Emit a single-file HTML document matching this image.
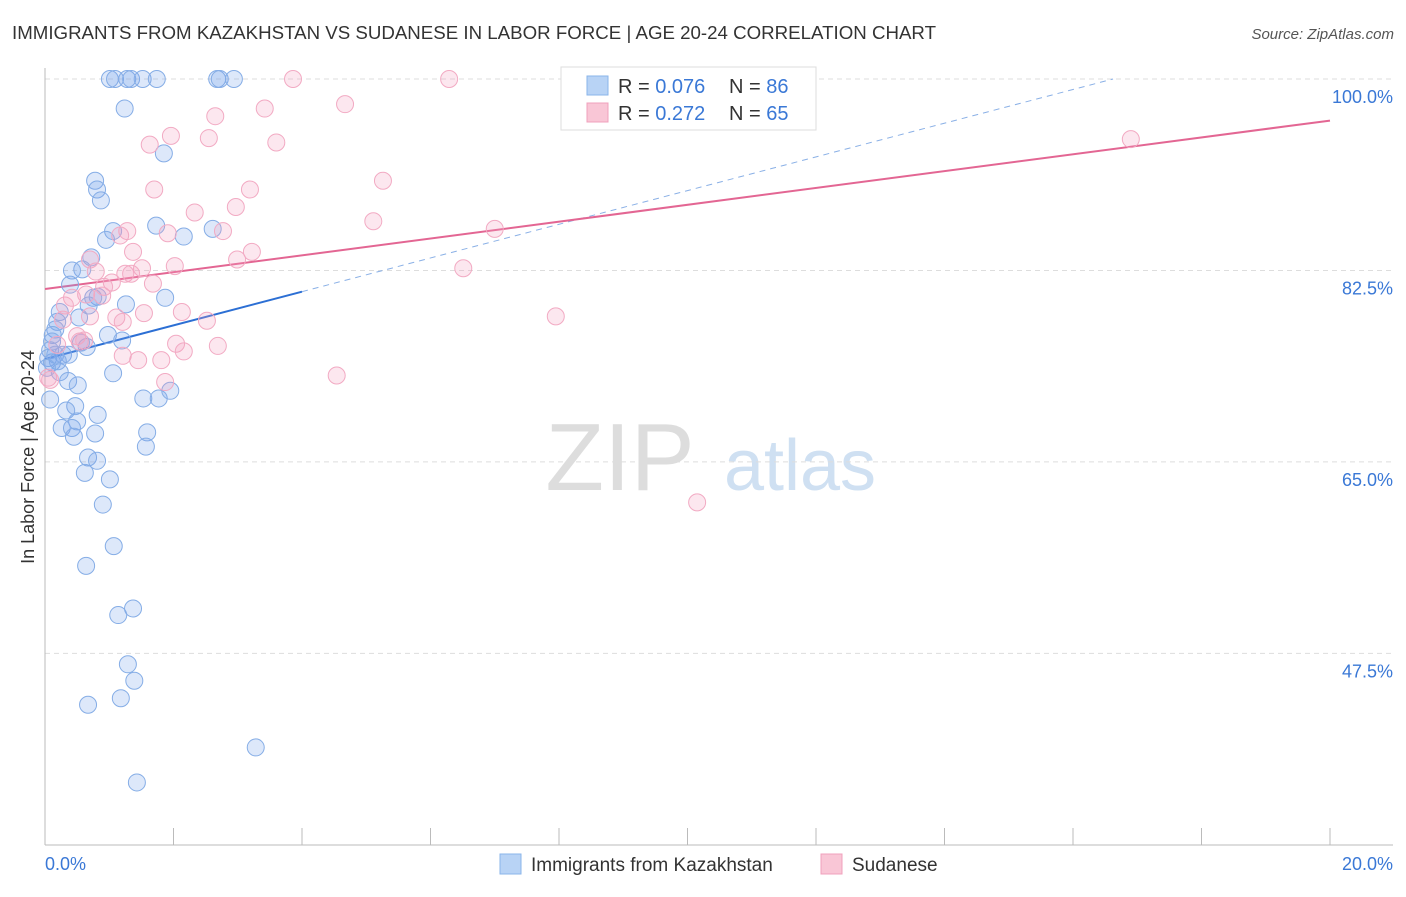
<!DOCTYPE html>
<html><head><meta charset="utf-8"><style>
body{margin:0;background:#fff;font-family:"Liberation Sans",sans-serif;}
svg text{font-family:"Liberation Sans",sans-serif;}
</style></head><body>
<svg id="chart" width="1406" height="892" xmlns="http://www.w3.org/2000/svg">
<text x="12" y="39" font-size="18" fill="#333" textLength="924" lengthAdjust="spacingAndGlyphs">IMMIGRANTS FROM KAZAKHSTAN VS SUDANESE IN LABOR FORCE | AGE 20-24 CORRELATION CHART</text>
<text x="1394" y="39" font-size="15" fill="#555" font-style="italic" text-anchor="end">Source: ZipAtlas.com</text>
<text x="620" y="490" font-size="96" fill="#ddd" font-family="Liberation Serif" text-anchor="middle">ZIP</text>
<text x="800" y="490" font-size="72" fill="#cfe0f2" text-anchor="middle">atlas</text>
<text transform="translate(34,457) rotate(-90)" font-size="18" fill="#333" text-anchor="middle">In Labor Force | Age 20-24</text>
<g id="grid"></g><g id="axes"></g><g id="trends"></g><g id="pts"></g>
<g>
<rect x="561" y="67" width="255" height="63" fill="#fff" stroke="#ddd"/>
<rect x="587" y="76" width="21" height="19" fill="#b8d3f5" stroke="#8ab4ea"/>
<rect x="587" y="103" width="21" height="19" fill="#f9c6d6" stroke="#f0a0bc"/>
<text x="618" y="93" font-size="20" fill="#333">R = <tspan fill="#3a78d6">0.076</tspan></text>
<text x="729" y="93" font-size="20" fill="#333">N = <tspan fill="#3a78d6">86</tspan></text>
<text x="618" y="120" font-size="20" fill="#333">R = <tspan fill="#3a78d6">0.272</tspan></text>
<text x="729" y="120" font-size="20" fill="#333">N = <tspan fill="#3a78d6">65</tspan></text>
</g>
<rect x="500" y="854" width="21" height="20" fill="#b8d3f5" stroke="#8ab4ea"/>
<text x="531" y="871" font-size="19" fill="#333">Immigrants from Kazakhstan</text>
<rect x="821" y="854" width="21" height="20" fill="#f9c6d6" stroke="#f0a0bc"/>
<text x="852" y="871" font-size="19" fill="#333">Sudanese</text>
<text x="45" y="870" font-size="18" fill="#3a78d6">0.0%</text>
<text x="1393" y="870" font-size="18" fill="#3a78d6" text-anchor="end">20.0%</text>
</svg>
<script>
const yTicks=[100,82.5,65,47.5];
const yTickLabels=["100.0%","82.5%","65.0%","47.5%"];
const xTicks=[0,2,4,6,8,10,12,14,16,18,20];
const blueX=[1.01,1.09,1.28,1.34,1.52,1.74,2.68,2.72,2.94,1.24,1.85,0.78,0.81,0.87,1.73,2.16,2.61,1.06,0.95,0.72,0.58,0.42,0.39,0.82,0.75,1.26,1.87,0.68,0.53,0.23,0.19,0.16,0.12,0.11,0.08,0.05,0.11,0.28,0.37,0.65,0.98,1.20,0.56,0.23,1.06,0.36,0.51,0.08,0.47,0.33,0.82,0.50,0.26,0.42,0.45,0.78,1.59,1.57,1.53,1.77,1.95,0.67,0.81,0.62,1.01,0.90,1.07,0.64,1.37,1.14,1.29,1.39,1.18,0.67,3.28,1.43,0.16,0.20,0.03];
const blueY=[100,100,100,100,100,100,100,100,100,97.3,93.2,90.7,89.9,88.9,86.6,85.6,86.3,86.1,85.3,83.7,82.6,82.5,81.2,80.1,80.0,79.4,80.0,79.3,78.2,78.7,77.8,77.1,76.6,76.0,75.2,74.5,74.1,74.8,74.8,75.5,76.6,76.1,75.9,73.2,73.1,72.4,72.0,70.7,70.1,69.7,69.3,68.7,68.1,68.1,67.3,67.6,67.7,66.4,70.8,70.8,71.5,65.4,65.1,64.0,63.4,61.1,57.3,55.5,51.6,51.0,46.5,45.0,43.4,42.8,38.9,35.7,74.8,74.2,73.6];
const pinkX=[0.05,3.86,6.29,3.42,4.67,2.65,1.96,1.63,2.55,3.60,1.70,3.19,5.26,2.97,2.33,5.11,7.00,1.28,1.17,2.77,1.91,1.37,3.22,0.70,2.99,2.02,1.51,6.51,0.79,1.25,1.34,1.04,1.68,0.92,0.64,0.42,0.89,0.31,0.28,0.70,1.54,2.13,2.52,1.11,1.21,0.50,0.54,0.61,2.04,2.69,2.16,1.21,1.45,1.81,4.54,1.87,7.95,10.15,16.90,0.19,0.08];
const pinkY=[72.7,100,100,97.3,97.7,96.6,94.8,94.0,94.6,94.2,89.9,89.9,90.7,88.3,87.8,87.0,86.3,86.1,85.7,86.1,85.9,84.2,84.2,83.5,83.5,82.9,82.7,82.7,82.4,82.2,82.2,81.4,81.3,81.0,80.3,80.0,80.2,79.3,78.0,78.3,78.6,78.7,77.9,78.2,77.8,76.5,76.0,76.1,75.8,75.6,75.1,74.7,74.3,74.3,72.9,72.3,78.3,61.3,94.5,75.7,72.5];
const blueTrend=[74.4,1.54];
const pinkTrend=[80.8,0.77];
const NS="http://www.w3.org/2000/svg";
const sx=v=>45+v*64.25;
const sy=v=>79+(100-v)*10.94;
function mk(tag,attrs,parent){const e=document.createElementNS(NS,tag);for(const k in attrs)e.setAttribute(k,attrs[k]);document.getElementById(parent).appendChild(e);return e;}
yTicks.forEach((t,i)=>{
 const l=mk('line',{x1:45,x2:1393,y1:sy(t),y2:sy(t),stroke:'#ddd','stroke-dasharray':'5,4'},'grid');
 
 
 const tx=mk('text',{x:1393,y:sy(t)+24,'font-size':18,fill:'#3a78d6','text-anchor':'end'},'grid');
 tx.textContent=yTickLabels[i];
 
 
});
let a=mk('line',{x1:45,x2:45,y1:68,y2:845,stroke:'#bbb'},'axes');


a=mk('line',{x1:45,x2:1393,y1:845,y2:845,stroke:'#bbb'},'axes');


xTicks.forEach(t=>{
 const l=mk('line',{x1:sx(t),x2:sx(t),y1:828,y2:845,stroke:'#bbb'},'axes');
 
 
});
function pts(X,Y,fill,stroke,name){
 X.forEach((x,i)=>{
  const c=mk('circle',{cx:sx(x),cy:sy(Y[i]),r:8.5,fill:fill,stroke:stroke,'stroke-width':1},'pts');
  
  
 });
}
pts(blueX,blueY,'rgba(120,165,235,0.25)','#85ade6','point-kazakhstan');
pts(pinkX,pinkY,'rgba(245,160,190,0.25)','#f2aac3','point-sudanese');
const bEnd=(100-blueTrend[0])/blueTrend[1];
let t=mk('line',{x1:sx(4),y1:sy(blueTrend[0]+4*blueTrend[1]),x2:sx(bEnd),y2:sy(100),stroke:'#8ab0e6','stroke-width':1,'stroke-dasharray':'6,5'},'trends');


t=mk('line',{x1:sx(0),y1:sy(blueTrend[0]),x2:sx(4),y2:sy(blueTrend[0]+4*blueTrend[1]),stroke:'#2c6fd4','stroke-width':2},'trends');


t=mk('line',{x1:sx(0),y1:sy(pinkTrend[0]),x2:sx(20),y2:sy(pinkTrend[0]+20*pinkTrend[1]),stroke:'#e36693','stroke-width':2},'trends');


</script>
</body></html>
